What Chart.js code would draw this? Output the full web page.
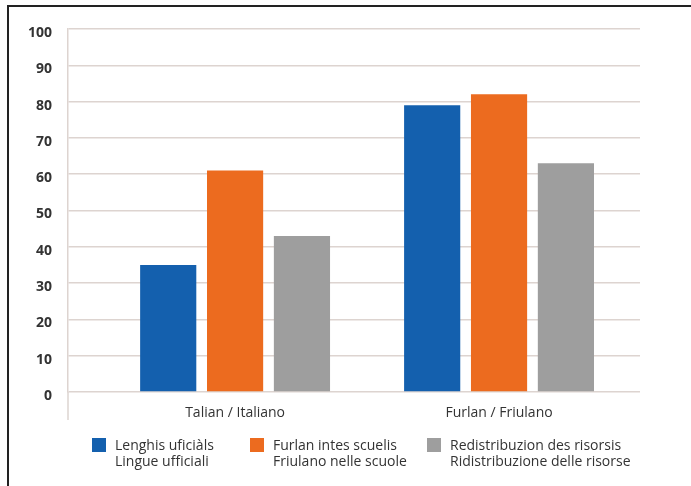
<!DOCTYPE html>
<html>
<head>
<meta charset="utf-8">
<script src="https://cdn.jsdelivr.net/npm/chart.js@4/dist/chart.umd.min.js"></script>
<style>
    body { margin: 0; background: #fff; }
    #wrap { position: relative; width: 691px; height: 486px; font-family: "Open Sans", Lato, sans-serif; }
    #frame { position: absolute; left: 7px; top: 5px; right: 0; bottom: 0; border-left: 2px solid #222; border-top: 2px solid #222; pointer-events: none; }
    .legend-item { position: absolute; top: 437px; display: flex; color: #333; font-size: 14px; line-height: 16px; font-weight: 500; }
    .legend-box { width: 14px; height: 14px; margin-right: 9px; margin-top: 1px; }
</style>
</head>
<body>
<div id="wrap">
    <canvas id="chart" width="691" height="486"></canvas>
    <div id="frame"></div>
    <div id="legend"></div>
</div>
<script>
// Chart data
const categories = ['Talian / Italiano', 'Furlan / Friulano'];
const uficialsValues = [35, 79];
const scuelisValues = [61, 82];
const risorsisValues = [43, 63];
const seriesLabels = [
    ['Lenghis uficiàls', 'Lingue ufficiali'],
    ['Furlan intes scuelis', 'Friulano nelle scuole'],
    ['Redistribuzion des risorsis', 'Ridistribuzione delle risorse']
];
const yTickMin = 0;
const yTickMax = 100;
const yTickStep = 10;

const colors = ['#1460ae', '#ec6b1f', '#9e9e9e'];
const gridColor = '#ddd4d0';
const legendLeft = [92, 250, 427];

// Bars sit on a linear index axis so the groups can be placed like the original
const toPoints = values => values.map((v, i) => ({ x: i + 1, y: v }));

const datasets = [uficialsValues, scuelisValues, risorsisValues].map((values, i) => ({
    label: seriesLabels[i].join(' / '),
    data: toPoints(values),
    backgroundColor: colors[i],
    borderWidth: 0,
    categoryPercentage: 0.76,
    barPercentage: 0.84
}));

// Left axis line runs a little below the zero line, like the original
const axisTail = {
    id: 'axisTail',
    afterDraw(chart) {
        const ctx = chart.ctx;
        const x = chart.scales.y.right;
        ctx.save();
        ctx.strokeStyle = gridColor;
        ctx.lineWidth = 1.5;
        ctx.beginPath();
        ctx.moveTo(x, chart.chartArea.bottom);
        ctx.lineTo(x, chart.chartArea.bottom + 28);
        ctx.stroke();
        ctx.restore();
    }
};

new Chart(document.getElementById('chart'), {
    type: 'bar',
    data: { datasets: datasets },
    plugins: [axisTail],
    options: {
        responsive: false,
        animation: false,
        layout: { padding: { top: 29, right: 51, left: 0, bottom: 0 } },
        plugins: {
            legend: { display: false },
            tooltip: { enabled: false }
        },
        scales: {
            x: {
                type: 'linear',
                offset: false,
                min: 0.367,
                max: 2.534,
                afterBuildTicks: scale => {
                    scale.ticks = categories.map((c, i) => ({ value: i + 1 }));
                },
                afterFit: scale => { scale.height = 94; },
                grid: { display: false },
                border: { display: false },
                ticks: {
                    autoSkip: false,
                    maxRotation: 0,
                    padding: 5,
                    color: '#333',
                    font: { family: 'Open Sans', size: 14, weight: 500 },
                    callback: value => categories[value - 1] || ''
                }
            },
            y: {
                min: yTickMin,
                max: yTickMax,
                afterFit: scale => { scale.width = 68; },
                grid: { color: gridColor, lineWidth: 1.5, drawTicks: false },
                border: { display: true, color: gridColor, width: 1.5 },
                ticks: {
                    stepSize: yTickStep,
                    padding: 16,
                    labelOffset: 4,
                    color: '#333',
                    font: { family: 'Open Sans', size: 14, weight: 'bold' }
                }
            }
        }
    }
});

// Two-line legend below the chart
const legend = document.getElementById('legend');
seriesLabels.forEach((lines, i) => {
    const item = document.createElement('div');
    item.className = 'legend-item';
    item.style.left = legendLeft[i] + 'px';
    item.innerHTML = `<div class="legend-box" style="background:${colors[i]}"></div><div>${lines.join('<br>')}</div>`;
    legend.appendChild(item);
});
</script>
</body>
</html>
